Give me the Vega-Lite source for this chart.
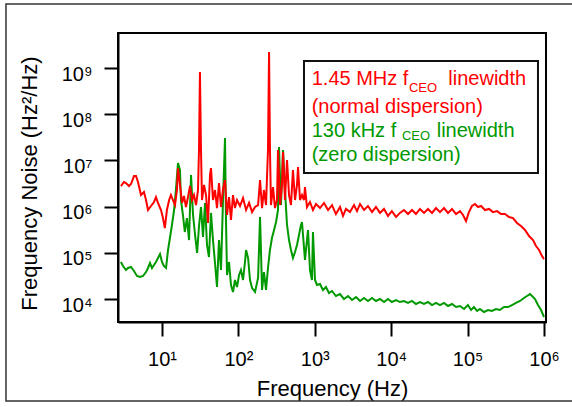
{
  "$schema": "https://vega.github.io/schema/vega-lite/v6.json",
  "width": 428,
  "height": 289,
  "autosize": {"type": "none"},
  "padding": {"left": 118, "top": 33, "right": 26, "bottom": 85},
  "background": "white",
  "config": {"view": {"stroke": "black", "strokeWidth": 2}, "font": "Liberation Sans"},
  "datasets": {
    "red": [
      {"f":2.9,"s":2.79e6},{"f":3.18,"s":3.41e6},{"f":3.38,"s":3.24e6},{"f":3.7,"s":2.79e6},{"f":3.93,"s":3.08e6},{"f":4.3,"s":4.59e6},{"f":4.57,"s":4.59e6},{"f":4.85,"s":3.41e6},{"f":5.31,"s":1.78e6},{"f":5.81,"s":2.07e6},{"f":6.18,"s":1.39e6},{"f":6.56,"s":8.44e5},{"f":7.18,"s":1.03e6},{"f":7.86,"s":1.26e6},{"f":8.34,"s":1.61e6},{"f":8.87,"s":1.2e6},{"f":9.7,"s":8.44e5},{"f":10.3,"s":5.66e5},{"f":10.9,"s":3.44e5},{"f":11.6,"s":8.44e5},{"f":12.4,"s":1.39e6},{"f":13.1,"s":1.78e6},{"f":13.9,"s":1.39e6},{"f":14.8,"s":1.08e6},{"f":15.7,"s":2.29e6},{"f":16.2,"s":6.84e6},{"f":17.2,"s":2.94e6},{"f":18.3,"s":1.2e6},{"f":19.4,"s":1.7e6},{"f":20.6,"s":9.8e5},{"f":21.9,"s":1.61e6},{"f":23.3,"s":2.79e6},{"f":24.7,"s":1.39e6},{"f":26.2,"s":1.78e6},{"f":27.9,"s":1.08e6},{"f":29.6,"s":2.29e6},{"f":30.5,"s":1.68e7},{"f":31.4,"s":8.2e8},{"f":32.4,"s":1.68e7},{"f":33.4,"s":1.39e6},{"f":35.5,"s":2.94e6},{"f":37.7,"s":1.78e6},{"f":40,"s":4.42e5},{"f":42.5,"s":4.83e6},{"f":43.8,"s":6.84e6},{"f":46.5,"s":1.39e6},{"f":49.4,"s":2.29e6},{"f":52.5,"s":9.3e5},{"f":55.7,"s":3.24e6},{"f":59.2,"s":9.8e5},{"f":62.9,"s":2.4e6},{"f":66.8,"s":3.77e6},{"f":71,"s":6.58e5},{"f":75.4,"s":1.61e6},{"f":80,"s":5.13e5},{"f":85,"s":1.78e6},{"f":90.2,"s":9.3e5},{"f":95.9,"s":1.39e6},{"f":105,"s":1.03e6},{"f":115,"s":1.53e6},{"f":126,"s":8.44e5},{"f":138,"s":1.2e6},{"f":151,"s":7.6e5},{"f":165,"s":9.8e5},{"f":181,"s":1.08e6},{"f":192,"s":3.77e6},{"f":204,"s":9.3e5},{"f":216,"s":2.29e6},{"f":230,"s":1.08e6},{"f":244,"s":1.68e7},{"f":252,"s":2.22e9},{"f":259,"s":1.68e7},{"f":267,"s":1.08e6},{"f":284,"s":2.65e6},{"f":301,"s":9.3e5},{"f":320,"s":1.39e6},{"f":330,"s":1.68e7},{"f":351,"s":1.08e6},{"f":372,"s":2.94e6},{"f":384,"s":1.52e7},{"f":407,"s":1.39e6},{"f":433,"s":1.02e7},{"f":460,"s":1.78e6},{"f":488,"s":1.08e6},{"f":518,"s":6.2e6},{"f":551,"s":1.39e6},{"f":585,"s":2.94e6},{"f":603,"s":7.2e6},{"f":640,"s":1.39e6},{"f":680,"s":1.78e6},{"f":722,"s":1.39e6},{"f":744,"s":2.65e6},{"f":790,"s":9.8e5},{"f":865,"s":1.26e6},{"f":946,"s":8.44e5},{"f":1037,"s":1.14e6},{"f":1170,"s":9.3e5},{"f":1320,"s":1.2e6},{"f":1490,"s":8.44e5},{"f":1680,"s":1.08e6},{"f":1890,"s":6.9e5},{"f":2140,"s":9.8e5},{"f":2340,"s":6.27e5},{"f":2560,"s":8.9e5},{"f":2890,"s":7.6e5},{"f":3260,"s":1.08e6},{"f":3570,"s":8.0e5},{"f":3910,"s":1.14e6},{"f":4410,"s":8.44e5},{"f":4970,"s":1.03e6},{"f":5610,"s":7.6e5},{"f":6320,"s":9.8e5},{"f":7130,"s":7.3e5},{"f":8050,"s":8.9e5},{"f":9080,"s":6.27e5},{"f":10200,"s":8.0e5},{"f":11600,"s":5.96e5},{"f":13000,"s":7.3e5},{"f":14700,"s":8.44e5},{"f":16600,"s":6.9e5},{"f":18700,"s":8.44e5},{"f":21100,"s":6.9e5},{"f":23800,"s":8.9e5},{"f":26900,"s":7.3e5},{"f":30300,"s":8.9e5},{"f":34200,"s":7.3e5},{"f":38600,"s":9.3e5},{"f":43500,"s":7.6e5},{"f":49100,"s":9.3e5},{"f":55400,"s":7.3e5},{"f":62500,"s":8.9e5},{"f":70500,"s":6.9e5},{"f":79600,"s":8.0e5},{"f":87100,"s":6.58e5},{"f":95300,"s":4.88e5},{"f":104000,"s":7.6e5},{"f":114000,"s":1.03e6},{"f":125000,"s":1.14e6},{"f":137000,"s":9.8e5},{"f":150000,"s":1.03e6},{"f":169000,"s":8.44e5},{"f":191000,"s":8.9e5},{"f":215000,"s":7.6e5},{"f":243000,"s":8.0e5},{"f":274000,"s":6.9e5},{"f":309000,"s":6.9e5},{"f":348000,"s":5.96e5},{"f":393000,"s":5.66e5},{"f":443000,"s":4.42e5},{"f":500000,"s":3.8e5},{"f":564000,"s":3.12e5},{"f":637000,"s":2.31e5},{"f":718000,"s":1.89e5},{"f":786000,"s":1.4e5},{"f":861000,"s":1.15e5},{"f":942000,"s":8.5e4},{"f":1000000,"s":7.3e4}
    ],
    "green": [
      {"f":2.9,"s":6.32e4},{"f":3.09,"s":5.18e4},{"f":3.38,"s":4.24e4},{"f":3.59,"s":4.69e4},{"f":3.93,"s":4.93e4},{"f":4.3,"s":4.04e4},{"f":4.71,"s":3.15e4},{"f":5.15,"s":2.99e4},{"f":5.64,"s":3.15e4},{"f":6.18,"s":3.84e4},{"f":6.56,"s":4.69e4},{"f":6.97,"s":6.01e4},{"f":7.4,"s":4.69e4},{"f":7.86,"s":5.45e4},{"f":8.34,"s":6.32e4},{"f":8.87,"s":7.7e4},{"f":9.42,"s":9.4e4},{"f":10,"s":6.32e4},{"f":10.6,"s":5.18e4},{"f":11.3,"s":4.69e4},{"f":12,"s":1.15e5},{"f":12.7,"s":2.09e5},{"f":13.5,"s":4.0e5},{"f":14.4,"s":8.44e5},{"f":15.2,"s":2.29e6},{"f":16.2,"s":8.8e6},{"f":17.2,"s":6.2e6},{"f":17.7,"s":1.39e6},{"f":18.8,"s":6.58e5},{"f":19.9,"s":2.82e5},{"f":21.2,"s":5.66e5},{"f":22.6,"s":1.89e5},{"f":24,"s":4.83e6},{"f":25.5,"s":6.58e5},{"f":27.1,"s":2.43e5},{"f":28.8,"s":9.9e4},{"f":30.6,"s":4.0e5},{"f":32.4,"s":9.8e5},{"f":34.4,"s":2.2e5},{"f":36.6,"s":1.2e6},{"f":38.8,"s":1.48e5},{"f":41.2,"s":8.1e4},{"f":43.8,"s":7.3e5},{"f":46.5,"s":1.89e5},{"f":49.4,"s":6.01e4},{"f":52.5,"s":1.82e4},{"f":55.7,"s":1.89e5},{"f":59.2,"s":4.24e4},{"f":62.9,"s":1.39e6},{"f":66.8,"s":3.06e7},{"f":68.8,"s":5.13e5},{"f":71,"s":3.31e4},{"f":75.4,"s":6.32e4},{"f":80,"s":2.01e4},{"f":85,"s":1.42e4},{"f":90.2,"s":2.58e4},{"f":95.9,"s":1.82e4},{"f":102,"s":3.31e4},{"f":108,"s":4.24e4},{"f":115,"s":2.58e4},{"f":122,"s":6.32e4},{"f":126,"s":1.15e5},{"f":134,"s":7.7e4},{"f":142,"s":2.58e4},{"f":151,"s":1.73e4},{"f":165,"s":1.42e4},{"f":181,"s":2.85e4},{"f":192,"s":5.96e5},{"f":204,"s":1.57e4},{"f":216,"s":3.84e4},{"f":230,"s":1.57e4},{"f":244,"s":4.69e4},{"f":259,"s":1.15e5},{"f":275,"s":2.09e5},{"f":293,"s":3.12e5},{"f":311,"s":4.64e5},{"f":330,"s":8.44e5},{"f":340,"s":1.95e7},{"f":361,"s":1.08e6},{"f":384,"s":1.68e7},{"f":407,"s":2.29e6},{"f":433,"s":4.0e5},{"f":460,"s":1.89e5},{"f":488,"s":1.15e5},{"f":518,"s":7.7e4},{"f":551,"s":1.04e5},{"f":585,"s":1.48e5},{"f":621,"s":2.43e5},{"f":659,"s":4.0e5},{"f":680,"s":4.64e5},{"f":701,"s":2.43e5},{"f":744,"s":6.98e4},{"f":790,"s":1.89e5},{"f":815,"s":3.12e5},{"f":865,"s":4.24e4},{"f":918,"s":2.58e4},{"f":946,"s":2.82e5},{"f":1006,"s":2.58e4},{"f":1069,"s":2.01e4},{"f":1170,"s":2.11e4},{"f":1280,"s":1.57e4},{"f":1400,"s":1.82e4},{"f":1530,"s":1.35e4},{"f":1680,"s":1.49e4},{"f":1890,"s":1.16e4},{"f":2140,"s":1.28e4},{"f":2410,"s":1.0e4},{"f":2720,"s":1.16e4},{"f":3070,"s":9.5e3},{"f":3460,"s":1.1e4},{"f":3910,"s":9.06e3},{"f":4410,"s":1.05e4},{"f":4970,"s":9.06e3},{"f":5610,"s":1.05e4},{"f":6320,"s":9.06e3},{"f":7130,"s":1.0e4},{"f":8050,"s":8.6e3},{"f":9080,"s":1.0e4},{"f":10200,"s":8.6e3},{"f":11600,"s":9.5e3},{"f":13000,"s":8.6e3},{"f":14700,"s":9.06e3},{"f":16600,"s":8.2e3},{"f":18700,"s":9.06e3},{"f":21100,"s":7.8e3},{"f":23800,"s":8.6e3},{"f":26900,"s":7.8e3},{"f":30300,"s":8.6e3},{"f":34200,"s":7.4e3},{"f":38600,"s":8.2e3},{"f":43500,"s":7.4e3},{"f":49100,"s":8.2e3},{"f":55400,"s":7.05e3},{"f":62500,"s":7.8e3},{"f":70500,"s":6.7e3},{"f":79600,"s":7.05e3},{"f":89700,"s":6.08e3},{"f":101000,"s":7.4e3},{"f":111000,"s":5.78e3},{"f":121000,"s":6.7e3},{"f":133000,"s":5.5e3},{"f":145000,"s":6.08e3},{"f":164000,"s":5.24e3},{"f":185000,"s":5.78e3},{"f":208000,"s":5.5e3},{"f":235000,"s":6.08e3},{"f":265000,"s":5.78e3},{"f":299000,"s":6.7e3},{"f":338000,"s":6.7e3},{"f":381000,"s":7.4e3},{"f":430000,"s":8.2e3},{"f":485000,"s":9.06e3},{"f":547000,"s":1.05e4},{"f":599000,"s":1.16e4},{"f":656000,"s":1.28e4},{"f":697000,"s":1.16e4},{"f":762000,"s":1.0e4},{"f":834000,"s":7.4e3},{"f":914000,"s":5.78e3},{"f":1000000,"s":4.08e3}
    ]
  },
  "encoding": {
    "x": {
      "field": "f", "type": "quantitative",
      "scale": {"type": "log", "domain": [2.656, 1062000], "nice": false},
      "axis": {
        "values": [10, 100, 1000, 10000, 100000, 1000000],
        "labelExpr": "'10' + ['⁰','¹','²','³','⁴','⁵','⁶','⁷','⁸','⁹'][round(log(datum.value)/LN10)]",
        "title": "Frequency (Hz)", "titleFontSize": 22, "titleFontWeight": "normal", "titleColor": "black",
        "titleBaseline": "alphabetic", "titleY": 73,
        "labelFontSize": 20, "labelColor": "black", "labelBaseline": "alphabetic", "labelPadding": 29,
        "labelFlush": false, "labelOverlap": false,
        "tickSize": 14, "tickWidth": 2, "tickColor": "black",
        "domainColor": "black", "domainWidth": 2, "grid": false
      }
    },
    "y": {
      "field": "s", "type": "quantitative",
      "scale": {"type": "log", "domain": [3178, 5.73e9], "nice": false},
      "axis": {
        "values": [10000, 100000, 1000000, 10000000, 100000000, 1000000000],
        "labelExpr": "'10' + ['⁰','¹','²','³','⁴','⁵','⁶','⁷','⁸','⁹'][round(log(datum.value)/LN10)]",
        "title": "Frequency Noise (Hz²/Hz)", "titleFontSize": 22, "titleFontWeight": "normal", "titleColor": "black",
        "titleBaseline": "alphabetic", "titleX": -82, "titleY": 150, "titleAngle": -90, "titleAlign": "center",
        "labelFontSize": 20, "labelColor": "black", "labelBaseline": "alphabetic", "labelOffset": 12, "labelPadding": 12,
        "labelOverlap": false, "labelFlush": false,
        "tickSize": 14, "tickWidth": 2, "tickColor": "black",
        "domainColor": "black", "domainWidth": 2, "grid": false
      }
    }
  },
  "layer": [
    {
      "data": {"values": [{"f": 0.0908, "f2": 2960000, "s": 2.43e10, "s2": 62}]},
      "mark": {"type": "rect", "fill": null, "stroke": "#333333", "strokeWidth": 1.5},
      "encoding": {"x2": {"field": "f2"}, "y2": {"field": "s2"}}
    },
    {
      "data": {"name": "green"},
      "mark": {"type": "line", "color": "#009900", "strokeWidth": 2},
      "encoding": {}
    },
    {
      "data": {"name": "red"},
      "mark": {"type": "line", "color": "#ff0000", "strokeWidth": 2},
      "encoding": {}
    },
    {
      "data": {"values": [{"f": 722, "f2": 834000, "s": 1.42e9, "s2": 5.33e6}]},
      "mark": {"type": "rect", "fill": "white", "stroke": "#111111", "strokeWidth": 2},
      "encoding": {"x2": {"field": "f2"}, "y2": {"field": "s2"}}
    },
    {
      "data": {"values": [
        {"f": 911, "s": 4.29e8, "t": "1.45 MHz f"},
        {"f": 55900, "s": 4.29e8, "t": "linewidth"},
        {"f": 911, "s": 1.06e8, "t": "(normal dispersion)"}
      ]},
      "mark": {"type": "text", "align": "left", "baseline": "alphabetic", "fontSize": 20, "color": "#ff0000"},
      "encoding": {"text": {"field": "t"}}
    },
    {
      "data": {"values": [{"f": 17060, "s": 3.03e8, "t": "CEO"}]},
      "mark": {"type": "text", "align": "left", "baseline": "alphabetic", "fontSize": 13, "color": "#ff0000"},
      "encoding": {"text": {"field": "t"}}
    },
    {
      "data": {"values": [
        {"f": 911, "s": 3.21e7, "t": "130 kHz f"},
        {"f": 39400, "s": 3.21e7, "t": "linewidth"},
        {"f": 911, "s": 9.5e6, "t": "(zero dispersion)"}
      ]},
      "mark": {"type": "text", "align": "left", "baseline": "alphabetic", "fontSize": 20, "color": "#009900"},
      "encoding": {"text": {"field": "t"}}
    },
    {
      "data": {"values": [{"f": 13840, "s": 2.72e7, "t": "CEO"}]},
      "mark": {"type": "text", "align": "left", "baseline": "alphabetic", "fontSize": 13, "color": "#009900"},
      "encoding": {"text": {"field": "t"}}
    }
  ]
}
